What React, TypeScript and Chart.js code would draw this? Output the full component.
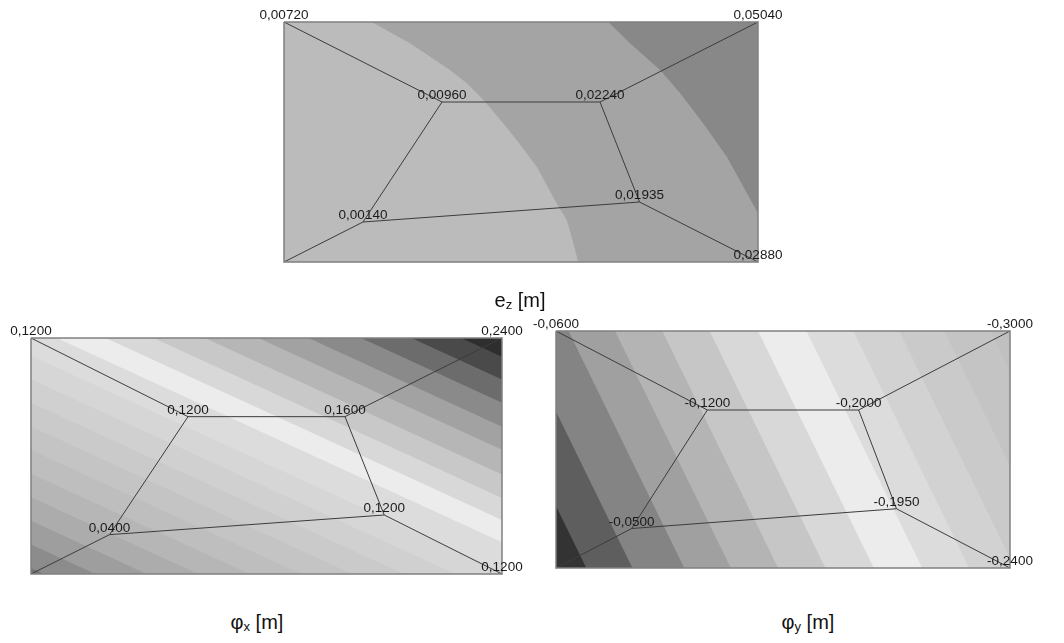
import React, { useEffect, useRef } from 'react';
import { Chart, registerables } from 'chart.js';

Chart.register(...registerables);

// ---------- plate model (units) ----------
const PLATE_W = 12;
const PLATE_H = 6;
// node order: outer TL, outer TR, outer BR, outer BL, inner TL, inner TR, inner BR, inner BL
const NODE_X = [0, 12, 12, 0, 4, 8, 9, 2];
const NODE_Y = [6, 6, 0, 0, 4, 4, 1.5, 1];
const MESH_SEGMENTS = [[0, 4], [1, 5], [2, 6], [3, 7], [4, 5, 6, 7, 4]];
const PLATE_OUTLINE = [0, 1, 2, 3, 0];

// ---------- nodal values ----------
const EZ_VALUES = [0.0072, 0.0504, 0.0288, null, 0.0096, 0.0224, 0.01935, 0.0014];
const PHIX_VALUES = [0.12, 0.24, 0.12, null, 0.12, 0.16, 0.12, 0.04];
const PHIY_VALUES = [-0.06, -0.3, -0.24, null, -0.12, -0.2, -0.195, -0.05];

// ---------- e_z contour boundaries (plate units) ----------
const EZ_BOUND_A_X = [2.22, 3.19, 4.2, 4.63, 5.05, 5.55, 5.89, 6.4, 6.9, 7.16, 7.28, 7.45];
const EZ_BOUND_A_Y = [6.0, 5.47, 4.8, 4.47, 4.05, 3.47, 3.05, 2.38, 1.47, 1.05, 0.63, 0.0];
const EZ_BOUND_B_X = [8.21, 8.76, 9.52, 10.03, 10.61, 11.21, 11.63, 12.0];
const EZ_BOUND_B_Y = [6.0, 5.47, 4.8, 4.22, 3.47, 2.63, 1.88, 1.22];
const EZ_BAND_COLORS = ['#bbbbbb', '#a4a4a4', '#888888'];

// ---------- phi_x contour boundaries: crossing of top edge line (y=6) and bottom edge line (y=0) ----------
const PHIX_BOUND_TOP_X = [-12.77, -11.46, -10.15, -8.84, -7.53, -6.22, -4.91, -3.6, -2.29, -0.98, 0.655, 1.9, 3.12, 4.43, 5.79, 7.07, 8.41, 9.69, 10.96];
const PHIX_BOUND_BOTTOM_X = [0.33, 1.64, 2.95, 4.26, 5.57, 6.88, 8.19, 9.5, 10.81, 12.12, 13.76, 15.0, 16.22, 17.53, 18.89, 20.17, 21.51, 22.79, 24.06];
const PHIX_BAND_COLORS = [
  '#767676', '#8c8c8c', '#9e9e9e', '#acacac', '#b6b6b6', '#bebebe', '#c4c4c4', '#cacaca', '#d0d0d0', '#d6d6d6',
  '#dcdcdc', '#ececec', '#d8d8d8', '#c8c8c8', '#b6b6b6', '#a2a2a2', '#8a8a8a', '#6c6c6c', '#4a4a4a', '#2e2e2e',
];

// ---------- phi_y contour boundaries ----------
const PHIY_BOUND_TOP_X = [-2.26, -1.04, 0.33, 1.56, 2.81, 4.06, 5.34, 6.62, 7.86, 9.07, 10.26, 11.48];
const PHIY_BOUND_BOTTOM_X = [0.8, 2.02, 3.39, 4.62, 5.87, 7.12, 8.4, 9.68, 10.92, 12.13, 13.32, 14.54];
const PHIY_BAND_COLORS = [
  '#333333', '#5e5e5e', '#848484', '#a0a0a0', '#b4b4b4', '#c6c6c6', '#d8d8d8',
  '#ececec', '#dcdcdc', '#d2d2d2', '#cacaca', '#c4c4c4', '#c0c0c0',
];

type Boundary = { x: number[]; y: number[] };

const stripeBoundaries = (top: number[], bottom: number[]): Boundary[] =>
  top.map((t, i) => ({ x: [t, bottom[i]], y: [PLATE_H, 0] }));

type PlotDef = {
  key: string;
  left: number;
  top: number;
  width: number;
  height: number;
  boundaries: Boundary[];
  colors: string[];
  values: (number | null)[];
  decimals: number;
};

const PAD_X = 40;
const PAD_Y = 30;

const PLOTS: PlotDef[] = [
  {
    key: 'ez', left: 284, top: 22, width: 474, height: 240,
    boundaries: [{ x: EZ_BOUND_A_X, y: EZ_BOUND_A_Y }, { x: EZ_BOUND_B_X, y: EZ_BOUND_B_Y }],
    colors: EZ_BAND_COLORS, values: EZ_VALUES, decimals: 5,
  },
  {
    key: 'phix', left: 31, top: 338, width: 471, height: 236,
    boundaries: stripeBoundaries(PHIX_BOUND_TOP_X, PHIX_BOUND_BOTTOM_X),
    colors: PHIX_BAND_COLORS, values: PHIX_VALUES, decimals: 4,
  },
  {
    key: 'phiy', left: 556, top: 331, width: 454, height: 237,
    boundaries: stripeBoundaries(PHIY_BOUND_TOP_X, PHIY_BOUND_BOTTOM_X),
    colors: PHIY_BAND_COLORS, values: PHIY_VALUES, decimals: 4,
  },
];

const FAR = PLATE_W * 8;

function buildDatasets(plot: PlotDef) {
  const ds: any[] = [];
  const poly = (pts: { x: number; y: number }[], color: string, order: number) => ({
    data: pts,
    fill: 'shape',
    backgroundColor: color,
    borderColor: 'rgba(0,0,0,0)',
    borderWidth: 0,
    pointRadius: 0,
    order,
  });
  // base band = whole plate
  ds.push(poly([{ x: 0, y: 0 }, { x: PLATE_W, y: 0 }, { x: PLATE_W, y: PLATE_H }, { x: 0, y: PLATE_H }], plot.colors[0], 1000));
  plot.boundaries.forEach((b, k) => {
    const pts = [{ x: FAR, y: PLATE_H + 1 }];
    b.x.forEach((x, i) => pts.push({ x, y: b.y[i] }));
    pts.push({ x: FAR, y: -1 });
    ds.push(poly(pts, plot.colors[k + 1], 999 - k));
  });
  MESH_SEGMENTS.forEach((seg) => {
    ds.push({
      data: seg.map((n) => ({ x: NODE_X[n], y: NODE_Y[n] })),
      fill: false,
      borderColor: '#3c3c3c',
      borderWidth: 1,
      pointRadius: 0,
      clip: false,
      order: 1,
    });
  });
  ds.push({
    data: PLATE_OUTLINE.map((n) => ({ x: NODE_X[n], y: NODE_Y[n] })),
    fill: false,
    borderColor: '#808080',
    borderWidth: 1.5,
    pointRadius: 0,
    clip: false,
    order: 0,
  });
  return ds;
}

function PlateChart({ plot }: { plot: PlotDef }) {
  const ref = useRef<HTMLCanvasElement | null>(null);
  useEffect(() => {
    if (!ref.current) return;
    const labels = {
      id: 'nodeLabels',
      afterDatasetsDraw(chart: any) {
        const { ctx, scales } = chart;
        ctx.save();
        ctx.font = '13.5px "Liberation Sans", Arial, sans-serif';
        ctx.fillStyle = '#1a1a1a';
        ctx.textAlign = 'center';
        ctx.textBaseline = 'alphabetic';
        plot.values.forEach((v, i) => {
          if (v === null) return;
          const px = scales.x.getPixelForValue(NODE_X[i]);
          const py = scales.y.getPixelForValue(NODE_Y[i]);
          ctx.fillText(v.toFixed(plot.decimals).replace('.', ','), px, py - 3);
        });
        ctx.restore();
      },
    };
    const chart = new Chart(ref.current, {
      type: 'line',
      data: { datasets: buildDatasets(plot) },
      options: {
        responsive: false,
        animation: false,
        devicePixelRatio: 1,
        events: [],
        layout: { padding: { left: PAD_X, right: PAD_X, top: PAD_Y, bottom: PAD_Y } },
        plugins: { legend: { display: false }, tooltip: { enabled: false } },
        scales: {
          x: { type: 'linear', min: 0, max: PLATE_W, display: false },
          y: { type: 'linear', min: 0, max: PLATE_H, display: false },
        },
      } as any,
      plugins: [labels],
    });
    return () => chart.destroy();
  }, [plot]);
  return (
    <canvas
      ref={ref}
      width={plot.width + 2 * PAD_X}
      height={plot.height + 2 * PAD_Y}
      style={{ position: 'absolute', left: plot.left - PAD_X, top: plot.top - PAD_Y }}
    />
  );
}

const titleStyle = (cx: number, baseline: number): React.CSSProperties => ({
  position: 'absolute',
  left: cx - 100,
  width: 200,
  top: baseline - 17,
  textAlign: 'center',
  fontFamily: '"Liberation Sans", Arial, sans-serif',
  fontSize: 20,
  lineHeight: '20px',
  color: '#111',
  whiteSpace: 'nowrap',
});
const subStyle: React.CSSProperties = { fontSize: 13, verticalAlign: -2 };

export default function App() {
  return (
    <div style={{ position: 'absolute', left: 0, top: 0, width: 1064, height: 643, background: '#fff', overflow: 'hidden' }}>
      {PLOTS.map((p) => (
        <PlateChart key={p.key} plot={p} />
      ))}
      <div style={titleStyle(520, 307)}>e<span style={subStyle}>z</span> [m]</div>
      <div style={titleStyle(257, 629)}>φ<span style={subStyle}>x</span> [m]</div>
      <div style={titleStyle(808, 629)}>φ<span style={subStyle}>y</span> [m]</div>
    </div>
  );
}
